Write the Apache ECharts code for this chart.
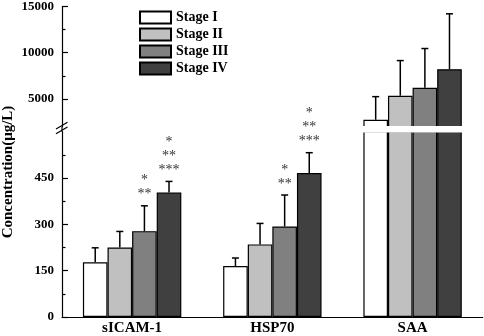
<!DOCTYPE html>
<html>
<head>
<meta charset="utf-8">
<script src="https://cdn.jsdelivr.net/npm/echarts@6.0.0/dist/echarts.min.js"></script>
<style>
html, body { margin: 0; padding: 0; background: #fff; }
#chart { width: 484px; height: 336px; }
</style>
</head>
<body>
<div id="chart"></div>
<script>
var categories = ['sICAM-1', 'HSP70', 'SAA']
var stages = ['Stage I', 'Stage II', 'Stage III', 'Stage IV']
var stageColors = ['#ffffff', '#c0c0c0', '#808080', '#404040']

// mean values per stage (sICAM-1, HSP70, SAA), µg/L
var stage1 = [177, 165, 2750]
var stage2 = [225, 235, 5350]
var stage3 = [278, 293, 6200]
var stage4 = [403, 466, 8220]
// standard deviations (upper whisker)
var sd1 = [47, 26, 2500]
var sd2 = [52, 68, 3800]
var sd3 = [82, 102, 4255]
var sd4 = [36, 66, 5990]
// significance marks above the bars
var sig1 = ['', '', '']
var sig2 = ['', '', '']
var sig3 = ['*\n**', '*\n**', '']
var sig4 = ['*\n**\n***', '*\n**\n***', '']

// broken y axis: lower segment and upper segment
var lowerTicks = [0, 150, 300, 450]
var lowerMinor = [75, 225, 375, 525]
var upperTicks = [5000, 10000, 15000]
var upperMinor = [7500, 12500]
var lowerMax = 600
var upperMin = 2000
var upperMax = 15000

var means = [stage1, stage2, stage3, stage4]
var sds = [sd1, sd2, sd3, sd4]
var sigs = [sig1, sig2, sig3, sig4]

var FONT = '"Liberation Serif", "DejaVu Serif", serif'
var barW = 24.6

var chart = echarts.init(document.getElementById('chart'))

function errorRender (params, api) {
  var cat = api.value(0)
  var s = api.value(1)
  var base = api.coord([cat, api.value(2)])
  var x = base[0] + (s - 1.5) * barW
  var yTop = api.coord([cat, api.value(3)])[1]
  var children = [
    { type: 'line', shape: { x1: x, y1: base[1], x2: x, y2: yTop }, style: { stroke: '#000', lineWidth: 1.5 } },
    { type: 'line', shape: { x1: x - 3.5, y1: yTop, x2: x + 3.5, y2: yTop }, style: { stroke: '#000', lineWidth: 1.5 } }
  ]
  var sig = sigs[s][cat]
  if (sig) {
    children.push({
      type: 'text',
      x: x,
      y: yTop - 4,
      style: {
        text: sig,
        align: 'center',
        verticalAlign: 'bottom',
        font: '14px ' + FONT,
        fill: '#333',
        lineHeight: 14
      }
    })
  }
  return { type: 'group', children: children }
}

function errorData (cats) {
  var arr = []
  for (var s = 0; s < 4; s++) {
    for (var i = 0; i < cats.length; i++) {
      var c = cats[i]
      arr.push([c, s, means[s][c], means[s][c] + sds[s][c]])
    }
  }
  return arr
}

var labelStyle = {
  color: '#000', fontFamily: FONT, fontWeight: 'bold', fontSize: 13,
  formatter: function (v) { return String(v) }
}
var blackLine = { color: '#000', width: 1.2 }

function minorAxis (grid, min, max, vals) {
  return {
    type: 'value', gridIndex: grid, min: min, max: max, position: 'left',
    axisLine: { show: false },
    axisLabel: { show: false },
    splitLine: { show: false },
    axisTick: { show: true, inside: true, length: 3.5, customValues: vals, lineStyle: blackLine }
  }
}

var series = []
stages.forEach(function (name, s) {
  var style = { color: stageColors[s], borderColor: '#000', borderWidth: 1.2 }
  series.push({
    name: name, type: 'bar', xAxisIndex: 0, yAxisIndex: 0,
    barWidth: barW, barGap: '0%',
    data: means[s].map(function (v, i) { return i === 2 ? v : '-' }),
    itemStyle: style
  })
  series.push({
    name: name, type: 'bar', xAxisIndex: 1, yAxisIndex: 2,
    barWidth: barW, barGap: '0%',
    data: means[s].slice(),
    itemStyle: style
  })
})
series.push({
  type: 'custom', xAxisIndex: 1, yAxisIndex: 2, z: 5,
  renderItem: errorRender, data: errorData([0, 1])
})
series.push({
  type: 'custom', xAxisIndex: 0, yAxisIndex: 0, z: 5,
  renderItem: errorRender, data: errorData([2])
})

chart.setOption({
  animation: false,
  backgroundColor: '#fff',
  grid: [
    { left: 62, right: 1.3, top: 5, bottom: 209.3 },
    { left: 62, right: 1.3, top: 131.7, bottom: 17.7 }
  ],
  legend: {
    data: stages,
    orient: 'vertical',
    left: 139,
    top: 10.5,
    padding: 0,
    itemWidth: 31,
    itemHeight: 12,
    itemGap: 3,
    icon: 'rect',
    textStyle: { color: '#000', fontFamily: FONT, fontWeight: 'bold', fontSize: 14 }
  },
  xAxis: [
    { type: 'category', gridIndex: 0, data: categories, show: false },
    {
      type: 'category', gridIndex: 1, data: categories,
      axisLine: { lineStyle: blackLine },
      axisTick: { inside: true, length: 4, lineStyle: blackLine },
      axisLabel: { color: '#000', fontFamily: FONT, fontWeight: 'bold', fontSize: 15, margin: 4 }
    }
  ],
  yAxis: [
    {
      type: 'value', gridIndex: 0, min: upperMin, max: upperMax,
      axisLine: { show: true, lineStyle: blackLine },
      axisTick: { show: true, inside: true, length: 6, customValues: upperTicks, lineStyle: blackLine },
      axisLabel: Object.assign({ customValues: upperTicks, margin: 8 }, labelStyle),
      splitLine: { show: false }
    },
    minorAxis(0, upperMin, upperMax, upperMinor),
    {
      type: 'value', gridIndex: 1, min: 0, max: lowerMax,
      axisLine: { show: true, lineStyle: blackLine },
      axisTick: { show: true, inside: true, length: 6, customValues: lowerTicks, lineStyle: blackLine },
      axisLabel: Object.assign({ customValues: lowerTicks, margin: 8 }, labelStyle),
      splitLine: { show: false }
    },
    minorAxis(1, 0, lowerMax, lowerMinor)
  ],
  series: series
})

// axis break: white gap across the SAA bars, the // marks and the y axis title
var yUp = chart.convertToPixel({ yAxisIndex: 0 }, upperMin)
var yLow = chart.convertToPixel({ yAxisIndex: 2 }, lowerMax)
var xAxis0 = chart.convertToPixel({ xAxisIndex: 1 }, 0)
var xSaa = chart.convertToPixel({ xAxisIndex: 1 }, 2)
var catW = xSaa - chart.convertToPixel({ xAxisIndex: 1 }, 1)
var axisX = xAxis0 - catW / 2
var yMid = (yUp + yLow) / 2

chart.setOption({
  graphic: [
    {
      type: 'rect', z: 3,
      shape: { x: xSaa - catW / 2, y: yUp - 0.7, width: catW - 2, height: yLow - yUp + 1.4 },
      style: { fill: '#fff' }
    },
    {
      type: 'line', z: 10,
      shape: { x1: axisX, y1: yUp, x2: axisX, y2: yLow },
      style: { stroke: '#000', lineWidth: 1.2 }
    },
    {
      type: 'line', z: 10,
      shape: { x1: axisX - 6, y1: yMid - 0.3, x2: axisX + 5.5, y2: yMid - 7 },
      style: { stroke: '#000', lineWidth: 1.2 }
    },
    {
      type: 'line', z: 10,
      shape: { x1: axisX - 6, y1: yMid + 4.5, x2: axisX + 5.5, y2: yMid - 2.2 },
      style: { stroke: '#000', lineWidth: 1.2 }
    },
    {
      type: 'text', z: 10,
      x: 8, y: 172, rotation: Math.PI / 2,
      style: {
        text: 'Concentration(μg/L)',
        align: 'center',
        verticalAlign: 'middle',
        font: 'bold 15px ' + FONT,
        fill: '#000'
      }
    }
  ]
})
</script>
</body>
</html>
